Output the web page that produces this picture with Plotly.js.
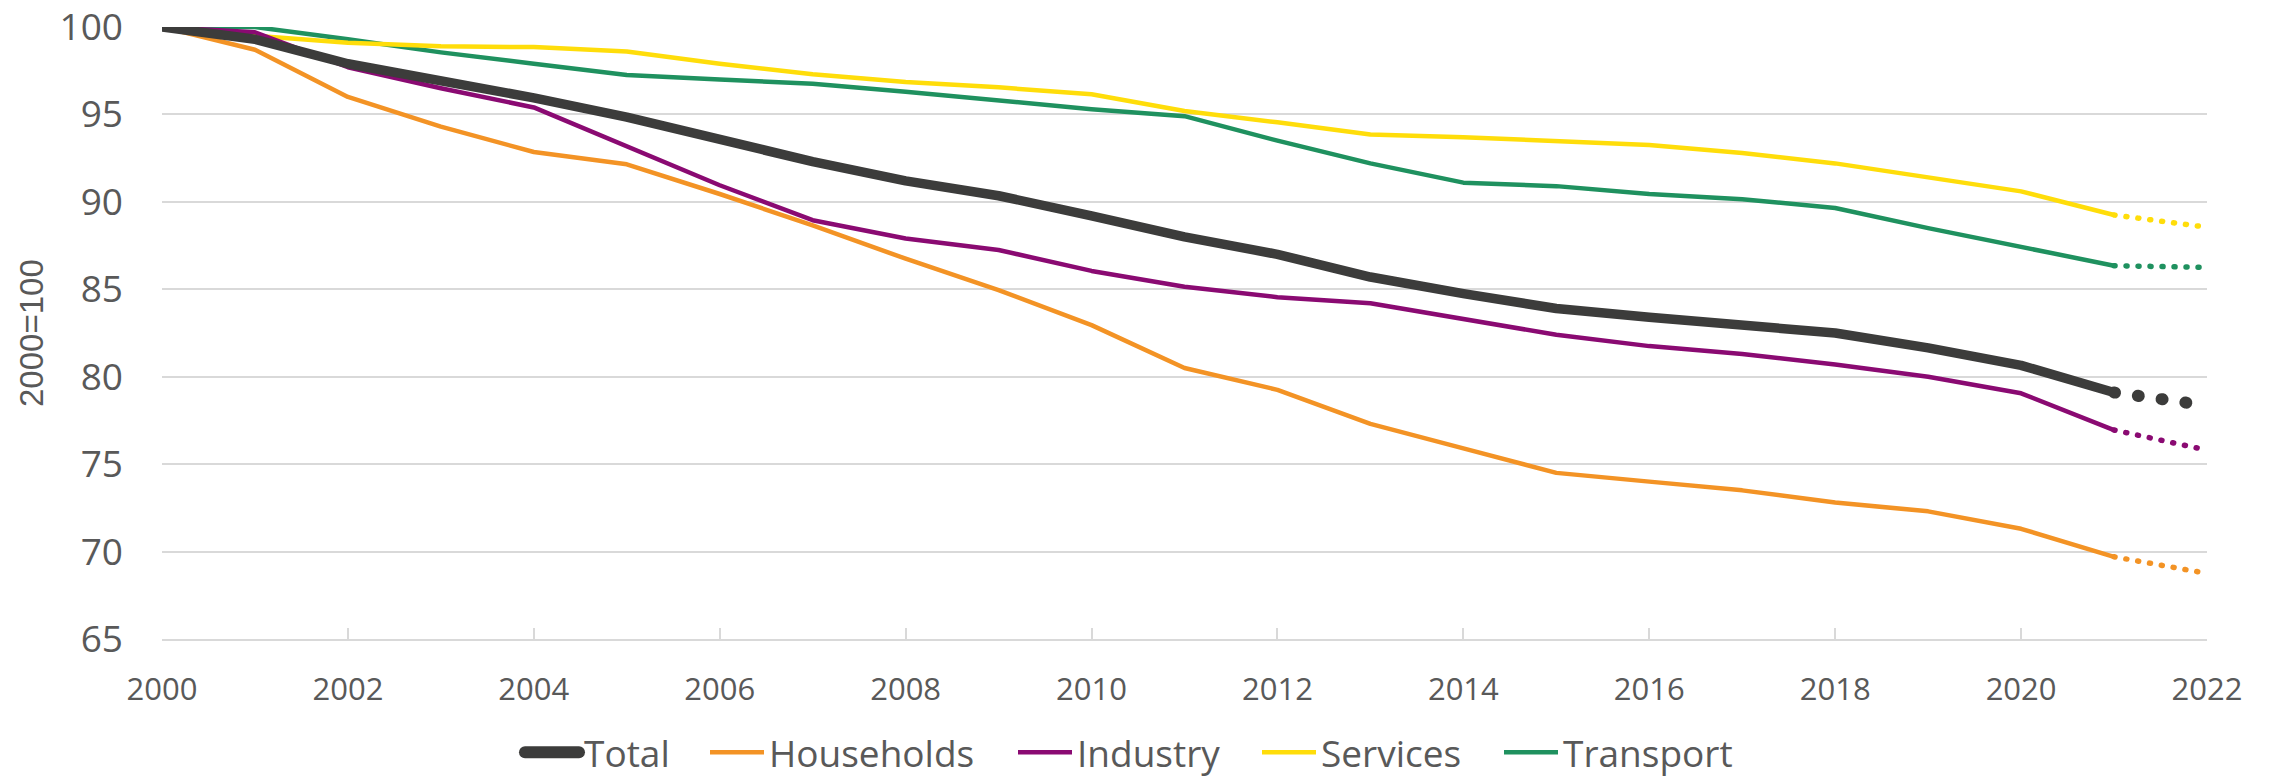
<!DOCTYPE html>
<html>
<head>
<meta charset="utf-8">
<script src="https://cdn.plot.ly/plotly-3.0.1.min.js"></script>
<style>
  html, body { margin: 0; padding: 0; background: #ffffff; }
  #chart { width: 2271px; height: 776px; }
</style>
</head>
<body>
<div id="chart"></div>
<script>
// ---- Data (index, 2000 = 100) ----
const years = [2000, 2001, 2002, 2003, 2004, 2005, 2006, 2007, 2008, 2009, 2010,
               2011, 2012, 2013, 2014, 2015, 2016, 2017, 2018, 2019, 2020, 2021];
const total      = [100, 99.3, 97.9, 96.95, 95.95, 94.85, 93.6, 92.3, 91.2, 90.35, 89.2,
                    88.0, 87.0, 85.7, 84.75, 83.9, 83.4, 83.0, 82.5, 81.65, 80.65, 79.1];
const households = [100, 98.7, 96.0, 94.3, 92.85, 92.15, 90.45, 88.65, 86.75, 84.95, 82.95,
                    80.5, 79.25, 77.3, 75.9, 74.5, 74.0, 73.5, 72.8, 72.3, 71.3, 69.7];
const industry   = [100, 99.7, 97.7, 96.5, 95.4, 93.15, 90.95, 88.95, 87.9, 87.25, 86.05,
                    85.15, 84.55, 84.2, 83.3, 82.4, 81.75, 81.3, 80.7, 80.0, 79.05, 76.95];
const services   = [100, 99.5, 99.1, 98.9, 98.85, 98.6, 97.9, 97.3, 96.85, 96.55, 96.15,
                    95.2, 94.55, 93.85, 93.7, 93.45, 93.25, 92.8, 92.2, 91.4, 90.6, 89.25];
const transport  = [100, 100, 99.3, 98.55, 97.9, 97.25, 97.0, 96.75, 96.3, 95.8, 95.3,
                    94.9, 93.5, 92.2, 91.1, 90.9, 90.45, 90.15, 89.65, 88.5, 87.4, 86.35];

// Estimated continuation to 2022 (dotted)
const projYears = [2021, 2022];
const totalProj      = [79.1, 78.35];
const householdsProj = [69.7, 68.75];
const industryProj   = [76.95, 75.8];
const servicesProj   = [89.25, 88.55];
const transportProj  = [86.35, 86.25];

const seriesNames = ['Total', 'Households', 'Industry', 'Services', 'Transport'];
const seriesData  = [total, households, industry, services, transport];
const projData    = [totalProj, householdsProj, industryProj, servicesProj, transportProj];

const xTicks = [2000, 2002, 2004, 2006, 2008, 2010, 2012, 2014, 2016, 2018, 2020, 2022];
const yTicks = [65, 70, 75, 80, 85, 90, 95, 100];
const yTitle = '2000=100';

// ---- Styles ----
const colors = ['#3c3c3b', '#f39325', '#8a0a72', '#ffdd0a', '#1f915f'];
const widths = [9.5, 4.5, 4.5, 4.5, 4.5];
const dotDash = ['1px,23px', '1px,11px', '1px,11px', '1px,11px', '1px,11px'];
const drawOrder = [4, 3, 1, 2, 0]; // draw Total on top
const legendIds = ['legend', 'legend2', 'legend3', 'legend4', 'legend5'];
const legendX = [520, 705, 1013, 1257, 1499]; // px, left edge of each legend box
const legendEntryW = [150, 260, 190, 190, 230];

const traces = [];
seriesNames.forEach((name, i) => {
  traces.push({
    x: years, y: seriesData[i], type: 'scatter', mode: 'lines', name: name,
    legend: legendIds[i],
    line: { color: colors[i], width: widths[i] },
    hoverinfo: 'x+y+name'
  });
});
seriesNames.forEach((name, i) => {
  traces.push({
    x: projYears, y: projData[i], type: 'scatter', mode: 'lines', name: name + ' (est.)',
    showlegend: false,
    line: { color: colors[i], width: widths[i] + (i === 0 ? 2.5 : 1), dash: dotDash[i] },
    hoverinfo: 'x+y+name'
  });
});
const ordered = [];
drawOrder.forEach(i => ordered.push(traces[i + 5]));
drawOrder.forEach(i => ordered.push(traces[i]));

const font = { family: '"Open Sans", "Noto Sans", sans-serif', color: '#595959' };
const W = 2271, H = 776;

const layout = {
  width: W, height: H,
  paper_bgcolor: '#ffffff', plot_bgcolor: '#ffffff',
  margin: { l: 162, r: 64, t: 27, b: 137 },
  font: font,
  showlegend: true,
  xaxis: {
    range: [2000, 2022], tickmode: 'array', tickvals: xTicks,
    ticktext: xTicks.map(String),
    showgrid: false, zeroline: false,
    showline: true, linecolor: '#d9d9d9', linewidth: 2,
    ticks: 'inside', ticklen: 11, tickwidth: 2, tickcolor: '#d9d9d9',
    tickfont: { family: font.family, size: 31, color: '#595959' },
    ticklabelstandoff: 22, ticklabeloverflow: 'allow'
  },
  yaxis: {
    range: [64.999, 100.001], tickmode: 'array', tickvals: yTicks,
    ticktext: yTicks.map(String),
    showgrid: true, gridcolor: '#d9d9d9', gridwidth: 2,
    zeroline: false, showline: false, ticks: '',
    tickfont: { family: font.family, size: 37, color: '#595959' },
    ticklabelstandoff: 38, ticklabeloverflow: 'allow'
  },
  annotations: [{
    text: yTitle, xref: 'paper', yref: 'paper', x: 0, y: 0.5,
    xanchor: 'center', yanchor: 'middle', xshift: -131, textangle: -90,
    showarrow: false,
    font: { family: '"Liberation Sans", Arial, sans-serif', size: 33, color: '#595959' }
  }]
};
legendIds.forEach((id, i) => {
  layout[id] = {
    orientation: 'h', xref: 'container', yref: 'container',
    x: legendX[i] / W, xanchor: 'left', y: 0.03, yanchor: 'middle',
    font: { family: font.family, size: 37, color: '#595959' },
    itemwidth: 54, bgcolor: 'rgba(0,0,0,0)', borderwidth: 0,
    entrywidthmode: 'pixels', entrywidth: legendEntryW[i]
  };
});

Plotly.newPlot('chart', ordered, layout, { displayModeBar: false, staticPlot: true }).then(() => {
  document.querySelectorAll('.scatterlayer path.js-line').forEach(p => {
    p.style.strokeLinecap = 'round';
    p.style.strokeLinejoin = 'round';
  });
  document.querySelectorAll('.legend').forEach(lg => {
    const txt = lg.querySelector('.legendtext');
    lg.querySelectorAll('path.js-line').forEach(p => {
      p.style.strokeLinecap = 'round';
      if (txt && txt.textContent === 'Total') p.style.strokeWidth = '12px';
    });
    lg.querySelectorAll('[clip-path]').forEach(el => el.removeAttribute('clip-path'));
  });
});
</script>
</body>
</html>
